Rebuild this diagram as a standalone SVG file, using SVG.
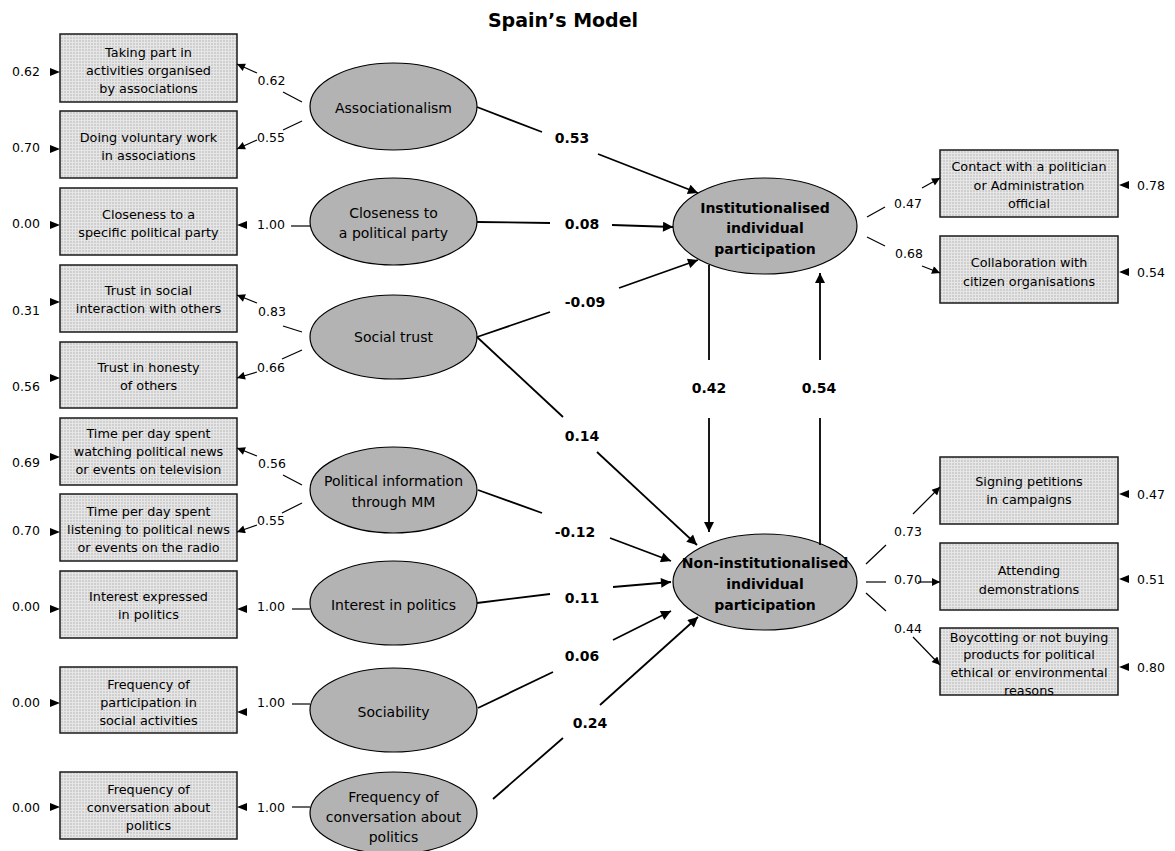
<svg xmlns="http://www.w3.org/2000/svg" width="1175" height="851" viewBox="0 0 1175 851">
<defs>
<pattern id="grid" width="3" height="3" patternUnits="userSpaceOnUse">
<rect width="3" height="3" fill="#e6e6e6"/>
<rect x="1" y="1" width="2" height="2" fill="#cfcfcf"/>
</pattern>
<marker id="ah" viewBox="0 0 10 10" refX="10" refY="5" markerWidth="10" markerHeight="8" markerUnits="userSpaceOnUse" orient="auto"><path d="M0,0 L10,5 L0,10 z" fill="#000"/></marker>
<marker id="ahb" viewBox="0 0 10 10" refX="10" refY="5" markerWidth="12" markerHeight="10" markerUnits="userSpaceOnUse" orient="auto"><path d="M0,0 L10,5 L0,10 z" fill="#000"/></marker>
</defs>
<style>
text{font-family:"DejaVu Sans",Verdana,sans-serif;fill:#000;dominant-baseline:central;text-anchor:middle}
.box{fill:url(#grid);stroke:#1a1a1a;stroke-width:1.5}
.lat{fill:#b3b3b3;stroke:#000;stroke-width:1.2}
.bt{font-size:12.8px}
.et{font-size:14px}
.ct{font-size:14px;font-weight:bold}
.ld{font-size:12.5px}
.er{font-size:12.5px}
.pl{font-size:14px;font-weight:bold}
.title{font-size:19px;font-weight:bold}
.ln{stroke:#000;stroke-width:1.2;fill:none}
.la{stroke:#000;stroke-width:1.2;fill:none;marker-end:url(#ah)}
.pt{stroke:#000;stroke-width:1.8;fill:none}
.pa{stroke:#000;stroke-width:1.8;fill:none;marker-end:url(#ahb)}
.tri{fill:#000}
</style>
<rect width="1175" height="851" fill="#fff"/>
<text class="title" x="563" y="20">Spain’s Model</text>

<!-- left indicator boxes -->
<g id="box-taking-part"><rect class="box" x="60" y="34" width="177" height="68"/><text class="bt" x="148.5" y="52">Taking part in</text><text class="bt" x="148.5" y="70">activities organised</text><text class="bt" x="148.5" y="88">by associations</text></g>
<g id="box-voluntary"><rect class="box" x="60" y="111" width="177" height="67"/><text class="bt" x="148.5" y="137">Doing voluntary work</text><text class="bt" x="148.5" y="155">in associations</text></g>
<g id="box-closeness"><rect class="box" x="60" y="188" width="177" height="67"/><text class="bt" x="148.5" y="214">Closeness to a</text><text class="bt" x="148.5" y="232">specific political party</text></g>
<g id="box-trust-social"><rect class="box" x="60" y="265" width="177" height="67"/><text class="bt" x="148.5" y="290">Trust in social</text><text class="bt" x="148.5" y="308">interaction with others</text></g>
<g id="box-trust-honesty"><rect class="box" x="60" y="342" width="177" height="66"/><text class="bt" x="148.5" y="367">Trust in honesty</text><text class="bt" x="148.5" y="385">of others</text></g>
<g id="box-tv"><rect class="box" x="60" y="418" width="177" height="67"/><text class="bt" x="148.5" y="433">Time per day spent</text><text class="bt" x="148.5" y="451">watching political news</text><text class="bt" x="148.5" y="469">or events on television</text></g>
<g id="box-radio"><rect class="box" x="60" y="494" width="177" height="67"/><text class="bt" x="148.5" y="511">Time per day spent</text><text class="bt" x="148.5" y="529">listening to political news</text><text class="bt" x="148.5" y="547">or events on the radio</text></g>
<g id="box-interest"><rect class="box" x="60" y="571" width="177" height="67"/><text class="bt" x="148.5" y="596">Interest expressed</text><text class="bt" x="148.5" y="614">in politics</text></g>
<g id="box-social-activities"><rect class="box" x="60" y="667" width="177" height="66"/><text class="bt" x="148.5" y="684">Frequency of</text><text class="bt" x="148.5" y="702">participation in</text><text class="bt" x="148.5" y="720">social activities</text></g>
<g id="box-conversation"><rect class="box" x="60" y="772" width="177" height="67"/><text class="bt" x="148.5" y="789">Frequency of</text><text class="bt" x="148.5" y="807">conversation about</text><text class="bt" x="148.5" y="825">politics</text></g>

<!-- latent ellipses -->
<g id="lat-associationalism"><ellipse class="lat" cx="393.5" cy="106.5" rx="83.5" ry="43.5"/><text class="et" x="393.5" y="108">Associationalism</text></g>
<g id="lat-closeness"><ellipse class="lat" cx="393.5" cy="221.5" rx="83.5" ry="43.5"/><text class="et" x="393.5" y="213">Closeness to</text><text class="et" x="393.5" y="233">a political party</text></g>
<g id="lat-social-trust"><ellipse class="lat" cx="393.5" cy="337" rx="83.5" ry="42"/><text class="et" x="393.5" y="337">Social trust</text></g>
<g id="lat-political-info"><ellipse class="lat" cx="393.5" cy="490" rx="83.5" ry="43"/><text class="et" x="393.5" y="481">Political information</text><text class="et" x="393.5" y="502">through MM</text></g>
<g id="lat-interest"><ellipse class="lat" cx="393.5" cy="603" rx="83.5" ry="42"/><text class="et" x="393.5" y="605">Interest in politics</text></g>
<g id="lat-sociability"><ellipse class="lat" cx="393.5" cy="710" rx="83.5" ry="42"/><text class="et" x="393.5" y="712">Sociability</text></g>
<g id="lat-conversation"><ellipse class="lat" cx="393.5" cy="813" rx="83.5" ry="41"/><text class="et" x="393.5" y="797">Frequency of</text><text class="et" x="393.5" y="817">conversation about</text><text class="et" x="393.5" y="837">politics</text></g>

<!-- central latent -->
<g id="lat-institutionalised"><ellipse class="lat" cx="765" cy="226" rx="92" ry="48"/><text class="ct" x="765" y="208">Institutionalised</text><text class="ct" x="765" y="228">individual</text><text class="ct" x="765" y="249">participation</text></g>
<g id="lat-non-institutionalised"><ellipse class="lat" cx="765" cy="582" rx="92" ry="48"/><text class="ct" x="765" y="563">Non-institutionalised</text><text class="ct" x="765" y="584">individual</text><text class="ct" x="765" y="605">participation</text></g>

<!-- right indicator boxes -->
<g id="box-contact"><rect class="box" x="940" y="150" width="178" height="67"/><text class="bt" x="1029" y="166">Contact with a politician</text><text class="bt" x="1029" y="185">or Administration</text><text class="bt" x="1029" y="203">official</text></g>
<g id="box-collaboration"><rect class="box" x="940" y="236" width="178" height="67"/><text class="bt" x="1029" y="262">Collaboration with</text><text class="bt" x="1029" y="281">citizen organisations</text></g>
<g id="box-petitions"><rect class="box" x="940" y="457" width="178" height="67"/><text class="bt" x="1029" y="481">Signing petitions</text><text class="bt" x="1029" y="499">in campaigns</text></g>
<g id="box-demonstrations"><rect class="box" x="940" y="543" width="178" height="67"/><text class="bt" x="1029" y="570">Attending</text><text class="bt" x="1029" y="589">demonstrations</text></g>
<g id="box-boycott"><rect class="box" x="940" y="628" width="178" height="67"/><text class="bt" x="1029" y="637">Boycotting or not buying</text><text class="bt" x="1029" y="654">products for political</text><text class="bt" x="1029" y="672">ethical or environmental</text><text class="bt" x="1029" y="690">reasons</text></g>

<g id="connectors">
<!-- left error terms -->
<g id="errors-left">
<polygon class="tri" points="50,68 60,72 50,76"/><text class="er" x="26" y="71">0.62</text>
<polygon class="tri" points="50,145 60,149 50,153"/><text class="er" x="26" y="147">0.70</text>
<polygon class="tri" points="50,221 60,225 50,229"/><text class="er" x="26" y="223">0.00</text>
<polygon class="tri" points="50,298 60,302 50,306"/><text class="er" x="26" y="310">0.31</text>
<polygon class="tri" points="50,374 60,378 50,382"/><text class="er" x="26" y="386">0.56</text>
<polygon class="tri" points="50,453 60,457 50,461"/><text class="er" x="26" y="462">0.69</text>
<polygon class="tri" points="50,528 60,532 50,536"/><text class="er" x="26" y="530">0.70</text>
<polygon class="tri" points="50,605 60,609 50,613"/><text class="er" x="26" y="606">0.00</text>
<polygon class="tri" points="50,699 60,703 50,707"/><text class="er" x="26" y="702">0.00</text>
<polygon class="tri" points="50,803 60,807 50,811"/><text class="er" x="26" y="807">0.00</text>
</g>
<!-- left loadings -->
<g id="loadings-left">
<line class="ln" x1="302" y1="102" x2="283" y2="92"/><text class="ld" x="271.5" y="80">0.62</text><line class="la" x1="257" y1="73" x2="237" y2="64"/>
<line class="ln" x1="302" y1="121" x2="283" y2="130"/><text class="ld" x="271" y="137">0.55</text><line class="la" x1="257" y1="140" x2="237" y2="149"/>
<line class="ln" x1="310" y1="226" x2="291" y2="226"/><text class="ld" x="271" y="224">1.00</text><polygon class="tri" points="247,221 237,225 247,229"/>
<line class="ln" x1="302" y1="332" x2="283" y2="326"/><text class="ld" x="272" y="311">0.83</text><line class="la" x1="257" y1="303" x2="237" y2="295"/>
<line class="ln" x1="302" y1="350" x2="282" y2="359"/><text class="ld" x="271" y="367">0.66</text><line class="la" x1="257" y1="372" x2="237" y2="378"/>
<line class="ln" x1="302" y1="485" x2="283" y2="475"/><text class="ld" x="272" y="463">0.56</text><line class="la" x1="257" y1="456" x2="237" y2="448"/>
<line class="ln" x1="302" y1="503" x2="282" y2="513"/><text class="ld" x="271" y="520">0.55</text><line class="la" x1="257" y1="525" x2="237" y2="532"/>
<line class="ln" x1="310" y1="609" x2="292" y2="609"/><text class="ld" x="271" y="606">1.00</text><polygon class="tri" points="247,605 237,609 247,613"/>
<line class="ln" x1="310" y1="704" x2="292" y2="704"/><text class="ld" x="271" y="702">1.00</text><polygon class="tri" points="247,708 237,712 247,716"/>
<line class="ln" x1="310" y1="807" x2="292" y2="807"/><text class="ld" x="271" y="807">1.00</text><polygon class="tri" points="247,803 237,807 247,811"/>
</g>
<!-- structural paths -->
<g id="paths">
<line class="pt" x1="477" y1="107" x2="542" y2="132"/><text class="pl" x="572" y="138">0.53</text><line class="pa" x1="598" y1="154" x2="698" y2="193"/>
<line class="pt" x1="477" y1="222" x2="550" y2="223"/><text class="pl" x="582" y="224">0.08</text><line class="pa" x1="612" y1="225" x2="673" y2="227"/>
<line class="pt" x1="477" y1="337" x2="550" y2="312"/><text class="pl" x="585" y="302">-0.09</text><line class="pa" x1="619" y1="288" x2="698" y2="260"/>
<line class="pt" x1="477" y1="337" x2="563" y2="417"/><text class="pl" x="582" y="436">0.14</text><line class="pa" x1="597" y1="452" x2="697" y2="545"/>
<line class="pt" x1="478" y1="490" x2="542" y2="513"/><text class="pl" x="575" y="532">-0.12</text><line class="pa" x1="610" y1="538" x2="671" y2="561"/>
<line class="pt" x1="477" y1="603" x2="550" y2="594"/><text class="pl" x="582" y="598">0.11</text><line class="pa" x1="613" y1="587" x2="671" y2="582"/>
<line class="pt" x1="478" y1="708" x2="553" y2="672"/><text class="pl" x="582" y="656">0.06</text><line class="pa" x1="613" y1="640" x2="671" y2="611"/>
<line class="pt" x1="493" y1="799" x2="563" y2="738"/><text class="pl" x="590" y="723">0.24</text><line class="pa" x1="600" y1="705" x2="698" y2="617"/>
<line class="pt" x1="709" y1="265" x2="709" y2="360"/><text class="pl" x="709" y="388">0.42</text><line class="pa" x1="709" y1="418" x2="709" y2="532"/>
<line class="pt" x1="820" y1="545" x2="820" y2="418"/><text class="pl" x="819" y="388">0.54</text><line class="pa" x1="820" y1="360" x2="820" y2="273"/>
</g>
<!-- right loadings -->
<g id="loadings-right">
<line class="ln" x1="867" y1="217" x2="885" y2="207"/><text class="ld" x="908" y="203">0.47</text><line class="la" x1="922" y1="188" x2="940" y2="178"/>
<line class="ln" x1="867" y1="237" x2="885" y2="246"/><text class="ld" x="909" y="253">0.68</text><line class="la" x1="922" y1="266" x2="940" y2="273"/>
<line class="ln" x1="866" y1="564" x2="886" y2="545"/><text class="ld" x="908" y="531">0.73</text><line class="la" x1="913" y1="514" x2="940" y2="487"/>
<line class="ln" x1="866" y1="582" x2="886" y2="582"/><text class="ld" x="908" y="579">0.70</text><line class="la" x1="918" y1="582" x2="940" y2="582"/>
<line class="ln" x1="866" y1="593" x2="886" y2="611"/><text class="ld" x="908" y="628">0.44</text><line class="la" x1="913" y1="637" x2="940" y2="665"/>
</g>
<!-- right error terms -->
<g id="errors-right">
<polygon class="tri" points="1129,181 1119,185 1129,189"/><text class="er" x="1151" y="185">0.78</text>
<polygon class="tri" points="1129,268 1119,272 1129,276"/><text class="er" x="1151" y="272">0.54</text>
<polygon class="tri" points="1129,490 1119,494 1129,498"/><text class="er" x="1151" y="494">0.47</text>
<polygon class="tri" points="1129,575 1119,579 1129,583"/><text class="er" x="1151" y="579">0.51</text>
<polygon class="tri" points="1129,663 1119,667 1129,671"/><text class="er" x="1151" y="667">0.80</text>
</g>
</g>
</svg>
